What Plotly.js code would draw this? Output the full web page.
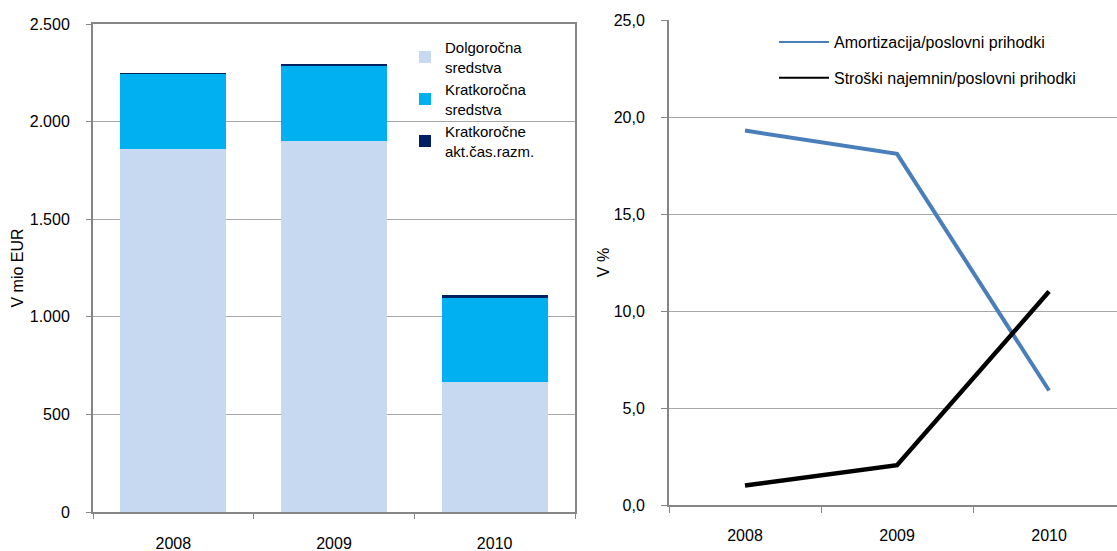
<!DOCTYPE html>
<html>
<head>
<meta charset="utf-8">
<script src="https://cdn.plot.ly/plotly-3.0.1.min.js"></script>
<style>html,body{margin:0;padding:0;background:#fff;}#chart{width:1117px;height:551px;}</style>
</head>
<body>
<div id="chart"></div>
<script>
// Data
var years = ['2008', '2009', '2010'];
var dolgorocna = [1860, 1902, 668];
var kratkorocna = [382, 385, 426];
var kratkAktCas = [6, 9, 17];
var amortizacija = [19.3, 18.1, 5.9];
var stroskiNajemnin = [1.0, 2.05, 11.0];
var barNames = ['Dolgoročna<br>sredstva', 'Kratkoročna<br>sredstva', 'Kratkoročne<br>akt.čas.razm.'];
var lineNames = ['Amortizacija/poslovni prihodki', 'Stroški najemnin/poslovni prihodki'];
var noValues = [null, null, null];

var FONT = 'Liberation Sans, Arial, sans-serif';
var gridC = '#a6a6a6', lineC = '#868686';

var traces = [
  {type:'bar', x:years, y:dolgorocna, name:barNames[0], marker:{color:'#c6d9f1'}, width:0.66, xaxis:'x', yaxis:'y', legend:'legend'},
  {type:'bar', x:years, y:kratkorocna, name:barNames[1], marker:{color:'#00b0f0'}, width:0.66, xaxis:'x', yaxis:'y', legend:'legend'},
  {type:'bar', x:years, y:kratkAktCas, name:barNames[2], marker:{color:'#002060'}, width:0.66, xaxis:'x', yaxis:'y', legend:'legend'},
  {type:'scatter', mode:'lines', x:years, y:amortizacija, name:lineNames[0], line:{color:'#4a7ebb', width:4}, xaxis:'x2', yaxis:'y2', showlegend:false},
  {type:'scatter', mode:'lines', x:years, y:stroskiNajemnin, name:lineNames[1], line:{color:'#000000', width:4.5}, xaxis:'x2', yaxis:'y2', showlegend:false},
  {type:'scatter', mode:'lines', x:years, y:noValues, name:lineNames[0], line:{color:'#4a7ebb', width:2}, xaxis:'x2', yaxis:'y2', legend:'legend2', legendgroup:'a', hoverinfo:'skip'},
  {type:'scatter', mode:'lines', x:years, y:noValues, name:lineNames[1], line:{color:'#000000', width:2}, xaxis:'x2', yaxis:'y2', legend:'legend2', legendgroup:'b', hoverinfo:'skip'}
];

var layout = {
  width:1117, height:551,
  margin:{l:0, r:0, t:0, b:0},
  paper_bgcolor:'#ffffff', plot_bgcolor:'#ffffff',
  separators:',.',
  barmode:'stack',
  font:{family:FONT, size:16, color:'#000'},
  xaxis:{domain:[93/1117, 575/1117], type:'category', tickson:'boundaries', ticks:'outside', ticklen:5, tickcolor:lineC,
    showline:true, linecolor:lineC, linewidth:2, mirror:true, showgrid:false, ticklabelstandoff:16, anchor:'y', fixedrange:true},
  yaxis:{domain:[(551-512)/551, (551-24)/551], range:[0, 2500], dtick:500, tickformat:',d', ticks:'outside', ticklen:5, tickcolor:lineC,
    showline:true, linecolor:lineC, linewidth:2, mirror:true, showgrid:true, gridcolor:gridC, gridwidth:1, zeroline:false,
    ticklabelstandoff:13, anchor:'x', title:{text:'V mio EUR', standoff:2, font:{size:16}}, fixedrange:true},
  xaxis2:{domain:[669/1117, 1], type:'category', range:[-0.5, 2.447], tickson:'boundaries', ticks:'outside', ticklen:6, tickcolor:lineC,
    showline:true, linecolor:lineC, linewidth:2, showgrid:false, ticklabelstandoff:15, anchor:'y2', fixedrange:true},
  yaxis2:{domain:[(551-505)/551, (551-20)/551], range:[0, 25], dtick:5, tickformat:'.1f', ticks:'outside', ticklen:6, tickcolor:lineC,
    showline:true, linecolor:lineC, linewidth:2, mirror:true, showgrid:true, gridcolor:gridC, gridwidth:1, zeroline:false,
    ticklabelstandoff:13, anchor:'x2', title:{text:'V %', standoff:0, font:{size:16}}, fixedrange:true},
  legend:{x:405/1117, y:1-31/551, xanchor:'left', yanchor:'top', traceorder:'normal', bgcolor:'rgba(0,0,0,0)',
    font:{family:FONT, size:15}, itemwidth:30, tracegroupgap:4},
  legend2:{x:774/1117, y:1-25/551, xanchor:'left', yanchor:'top', traceorder:'grouped', tracegroupgap:12, bgcolor:'rgba(0,0,0,0)',
    font:{family:FONT, size:16}, itemwidth:50},
  showlegend:true
};

Plotly.newPlot('chart', traces, layout, {displayModeBar:false, staticPlot:true});
</script>
</body>
</html>
